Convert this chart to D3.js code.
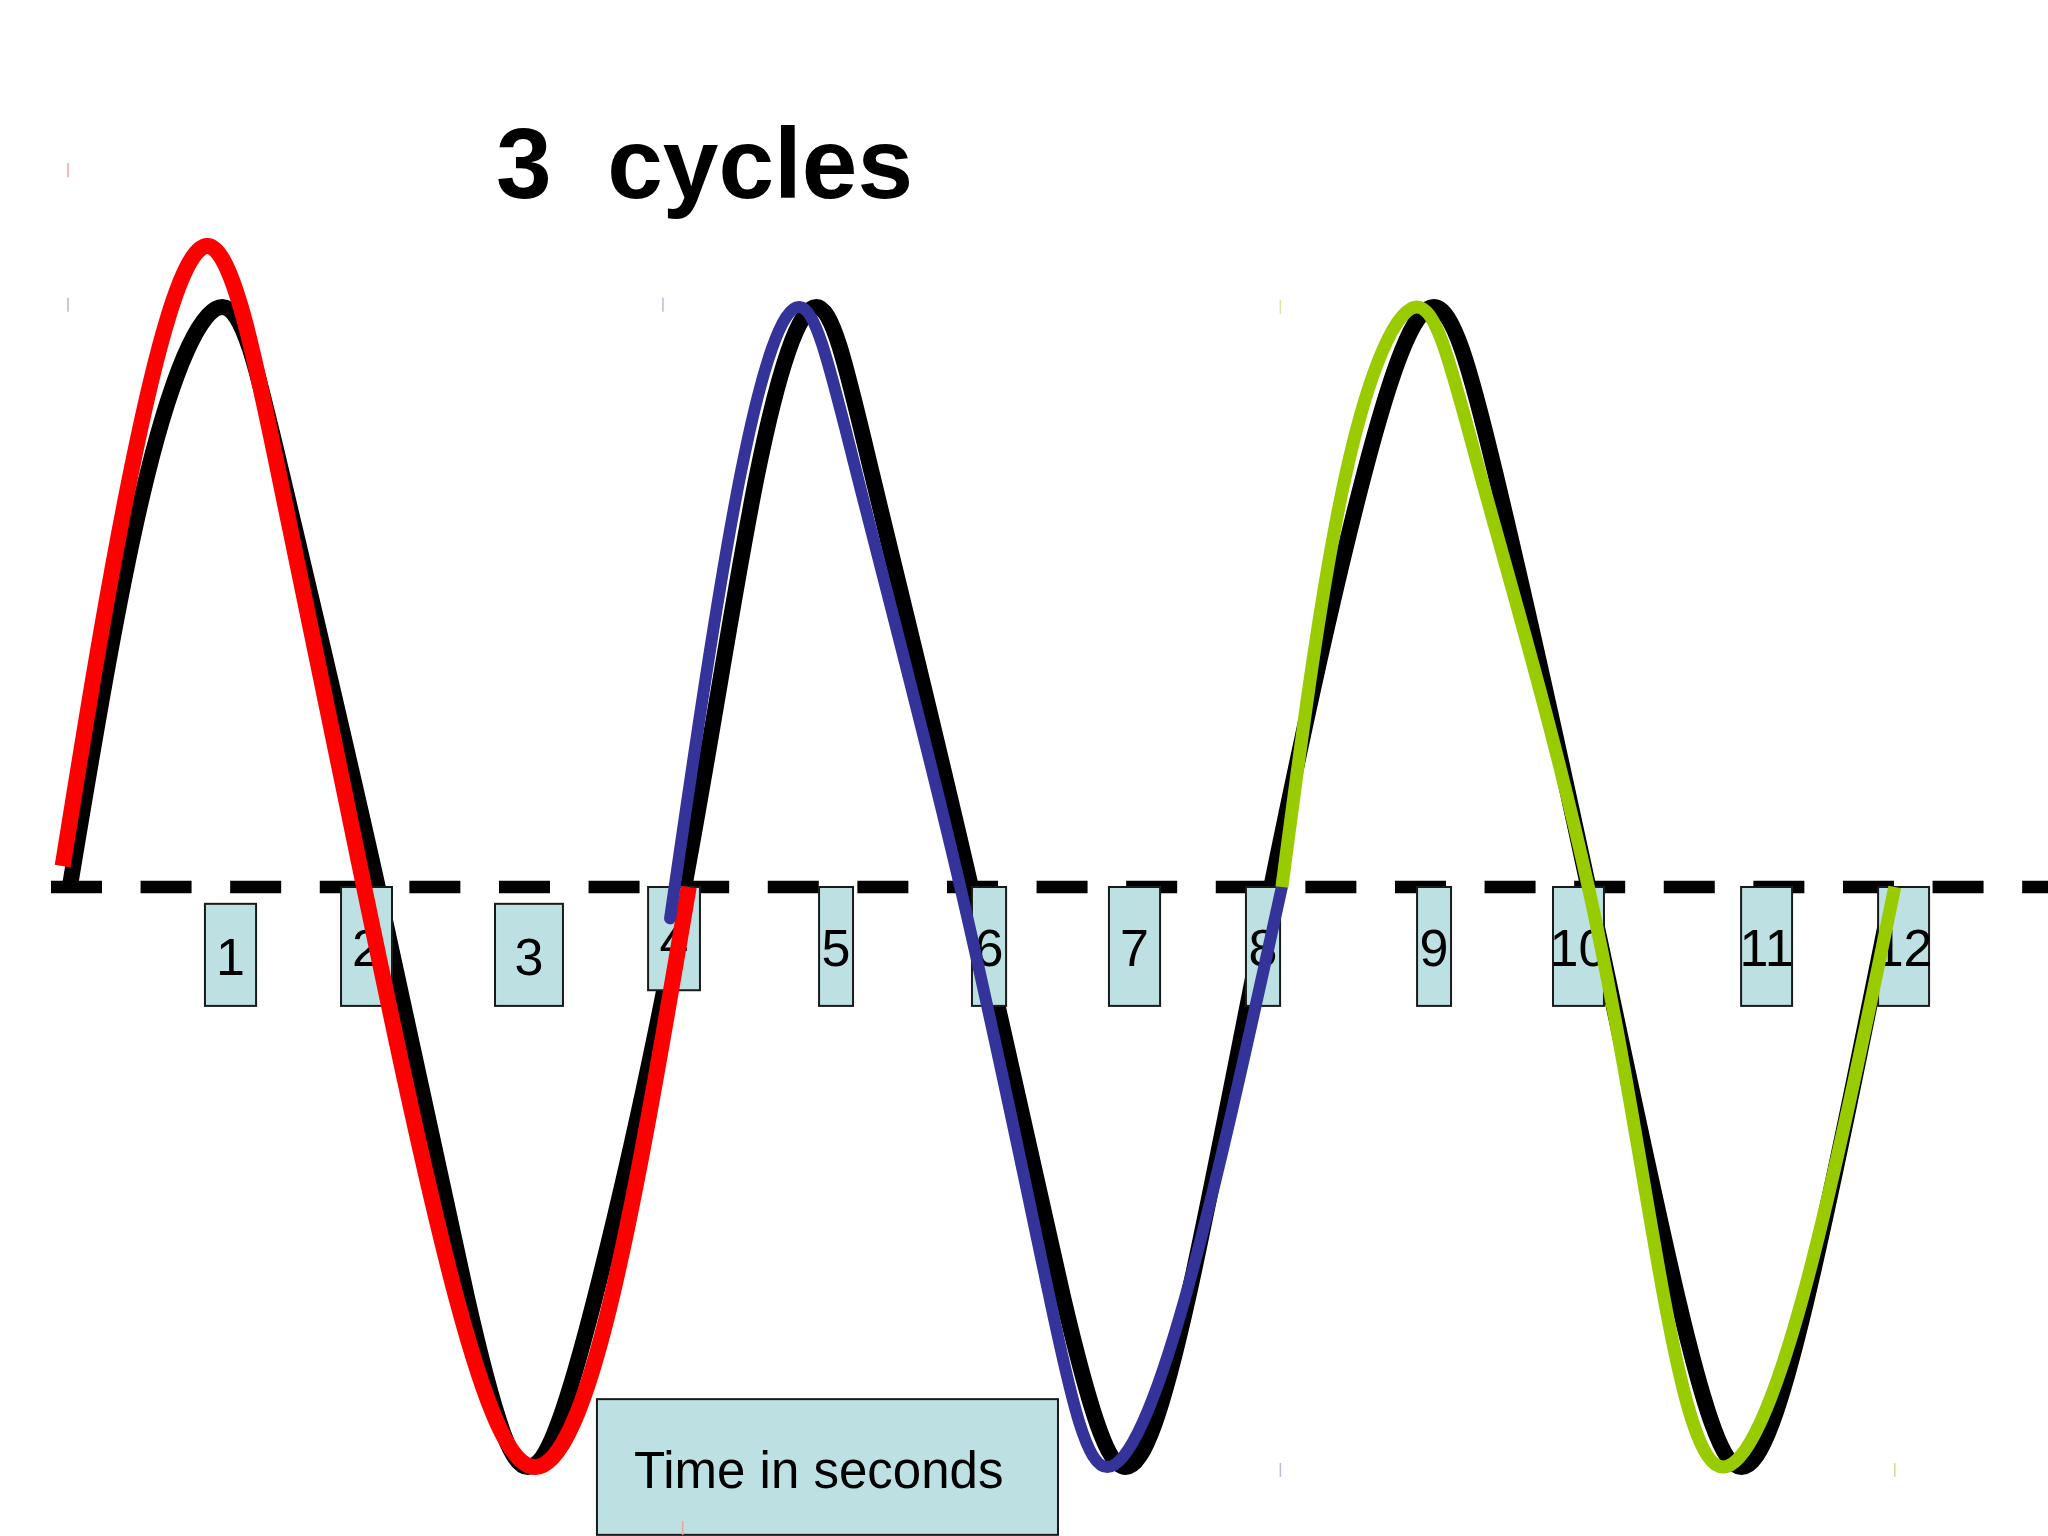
<!DOCTYPE html>
<html>
<head>
<meta charset="utf-8">
<script src="https://cdnjs.cloudflare.com/ajax/libs/d3/7.8.5/d3.min.js"></script>
<style>
  html, body { margin: 0; padding: 0; background: #fff; }
  svg { display: block; }
  text { font-family: "Liberation Sans", Arial, sans-serif; }
</style>
</head>
<body>
<div id="chart"></div>
<script>
// 3 cycles - a wave against time, each cycle traced in its own colour
// x is time in seconds, y is amplitude (-1 .. 1)

const titleText = '3  cycles';
const axisLabel = 'Time in seconds';

// reference wave (black)
const blackWave = [
    [0.46, 0], [0.97, 0.71], [1.465, 1], [1.86, 0.71], [2.49, 0],
    [3.08, -0.71], [3.48, -1], [3.92, -0.71], [4.51, 0],
    [4.99, 0.71], [5.38, 1], [5.75, 0.71], [6.40, 0],
    [7.01, -0.71], [7.42, -1], [7.83, -0.71], [8.38, 0],
    [8.99, 0.71], [9.45, 1], [9.86, 0.71], [10.47, 0],
    [11.06, -0.71], [11.48, -1], [11.91, -0.71], [12.48, 0]
];

// cycle 1 (red)
const redCycle = [
    [0.413, 0.036], [0.86, 0.71], [1.365, 1.105], [1.84, 0.71], [2.40, 0],
    [3.01, -0.71], [3.53, -1.0], [4.03, -0.71], [4.54, 0]
];

// cycle 2 (blue)
const blueCycle = [
    [4.417, -0.054], [4.88, 0.71], [5.27, 1.0], [5.65, 0.71], [6.33, 0],
    [6.92, -0.71], [7.30, -1.0], [7.81, -0.71], [8.45, 0]
];

// cycle 3 (green)
const greenCycle = [
    [8.45, 0], [8.87, 0.71], [9.34, 1.0], [9.76, 0.71], [10.47, 0],
    [10.97, -0.71], [11.36, -1.0], [11.88, -0.71], [12.49, 0]
];

// second markers
const secondLabels = ['1', '2', '3', '4', '5', '6', '7', '8', '9', '10', '11', '12'];
const secondFrom = [1.351, 2.248, 3.263, 4.272, 5.399, 6.407, 7.310, 8.213, 9.341, 10.237, 11.477, 12.380];
const secondTo = [1.688, 2.584, 3.711, 4.614, 5.623, 6.632, 7.647, 8.438, 9.565, 10.573, 11.813, 12.716];
const secondTop = [-0.029, 0, -0.029, 0, 0, 0, 0, 0, 0, 0, 0, 0];
const secondBottom = [-0.205, -0.205, -0.205, -0.178, -0.205, -0.205, -0.205, -0.205, -0.205, -0.205, -0.205, -0.205];

// label box under the axis
const timeBoxSpan = [3.935, 6.974];
const timeBoxLevels = [-0.883, -1.117];

// leftover path markers from the original slide
const markerT = [0.448, 0.448, 4.37, 8.44, 8.44, 12.49, 4.50];
const markerV = [1.248, 1.016, 1.016, 1.012, -0.993, -0.993, -1.093];
const markerColor = ['#f4a0a0', '#b8b8c8', '#b8bcd8', '#d4e8a8', '#b8bcd8', '#c8e090', '#f4a0a0'];

const W = 2048, H = 1536;

const svg = d3.select('#chart')
    .append('svg')
    .attr('width', W)
    .attr('height', H)
    .style('background', '#fff');

const x = d3.scaleLinear().domain([0, 13.5]).range([0, W]);
const y = d3.scaleLinear().domain([-1, 1]).range([1467, 307]);

// title
svg.append('text')
    .attr('x', 496)
    .attr('y', 198)
    .attr('font-size', 100)
    .attr('font-weight', 'bold')
    .attr('fill', '#000')
    .style('white-space', 'pre')
    .text(titleText);

// dashed zero line
svg.append('line')
    .attr('x1', x(0.336))
    .attr('x2', x(13.5))
    .attr('y1', y(0))
    .attr('y2', y(0))
    .attr('stroke', '#000')
    .attr('stroke-width', 12.7)
    .attr('stroke-dasharray', '51,38.6');

const line = d3.line()
    .x(d => x(d[0]))
    .y(d => y(d[1]))
    .curve(d3.curveNatural);

svg.append('path')
    .attr('d', line(blackWave))
    .attr('fill', 'none')
    .attr('stroke', '#000')
    .attr('stroke-width', 16)
    .attr('stroke-linejoin', 'round');

// second boxes
const boxes = svg.selectAll('.sec')
    .data(secondLabels)
    .enter()
    .append('g')
    .attr('class', 'sec');

boxes.append('rect')
    .attr('x', (d, i) => x(secondFrom[i]))
    .attr('y', (d, i) => y(secondTop[i]))
    .attr('width', (d, i) => x(secondTo[i]) - x(secondFrom[i]))
    .attr('height', (d, i) => y(secondBottom[i]) - y(secondTop[i]))
    .attr('fill', '#bde0e2')
    .attr('stroke', '#1a1a1a')
    .attr('stroke-width', 2);

boxes.append('text')
    .attr('x', (d, i) => (x(secondFrom[i]) + x(secondTo[i])) / 2)
    .attr('y', (d, i) => (y(secondTop[i]) + y(secondBottom[i])) / 2 + 20)
    .attr('text-anchor', 'middle')
    .attr('font-size', 52)
    .attr('fill', '#000')
    .text(d => d);

// coloured cycles on top
const cycles = [
    { pts: redCycle, color: '#ff0000', width: 16, cap: 'butt' },
    { pts: blueCycle, color: '#333399', width: 12, cap: 'round' },
    { pts: greenCycle, color: '#99cc00', width: 13, cap: 'butt' }
];

cycles.forEach(c => {
    svg.append('path')
        .attr('d', line(c.pts))
        .attr('fill', 'none')
        .attr('stroke', c.color)
        .attr('stroke-width', c.width)
        .attr('stroke-linecap', c.cap)
        .attr('stroke-linejoin', 'round');
});

// axis label box
svg.append('rect')
    .attr('x', x(timeBoxSpan[0]))
    .attr('y', y(timeBoxLevels[0]))
    .attr('width', x(timeBoxSpan[1]) - x(timeBoxSpan[0]))
    .attr('height', y(timeBoxLevels[1]) - y(timeBoxLevels[0]))
    .attr('fill', '#bde0e2')
    .attr('stroke', '#1a1a1a')
    .attr('stroke-width', 2);

svg.append('text')
    .attr('x', x(timeBoxSpan[0]) + 37)
    .attr('y', y(timeBoxLevels[0]) + 89)
    .attr('font-size', 51)
    .attr('fill', '#000')
    .text(axisLabel);

// faint markers
markerT.forEach((t, i) => {
    svg.append('line')
        .attr('x1', x(t))
        .attr('x2', x(t))
        .attr('y1', y(markerV[i]))
        .attr('y2', y(markerV[i]) + 14)
        .attr('stroke', markerColor[i])
        .attr('stroke-width', 1.5);
});
</script>
</body>
</html>
